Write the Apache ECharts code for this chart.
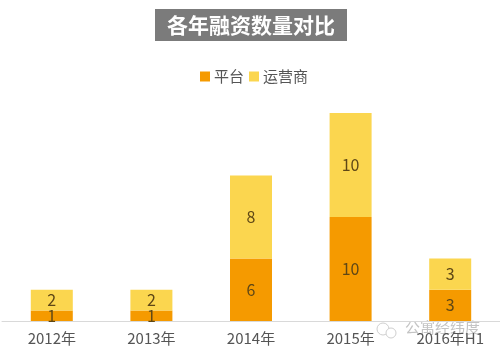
<!DOCTYPE html>
<html>
<head>
<meta charset="utf-8">
<script src="https://cdn.jsdelivr.net/npm/echarts@6/dist/echarts.min.js"></script>
<style>
  html, body { margin: 0; padding: 0; background: #fff; }
  #chart { width: 500px; height: 355px; }
</style>
</head>
<body>
<div id="chart"></div>
<script>
const categories = ["2012年", "2013年", "2014年", "2015年", "2016年H1"];
const platform = [1, 1, 6, 10, 3];
const operator = [2, 2, 8, 10, 3];

const font = '"Noto Sans CJK SC", "Noto Sans", sans-serif';
const chart = echarts.init(document.getElementById("chart"));

const barLabel = {
  show: true,
  position: "inside",
  color: "#5e4716",
  fontSize: 16,
  fontFamily: font,
};

chart.setOption({
  animation: false,
  backgroundColor: "#fff",
  title: {
    text: "各年融资数量对比",
    left: 155,
    top: 9,
    padding: [4, 12, 4, 12],
    backgroundColor: "#7b7b7b",
    textStyle: { color: "#fff", fontSize: 21, fontWeight: "bold", fontFamily: font, lineHeight: 24 },
  },
  legend: {
    data: ["平台", "运营商"],
    left: 200,
    top: 69,
    padding: 0,
    itemWidth: 10,
    itemHeight: 10,
    itemGap: 5,
    icon: "rect",
    textStyle: { color: "#555", fontSize: 15, fontFamily: font, padding: [0, 0, 0, -1] },
  },
  grid: { left: 2, top: 113, width: 499, bottom: 34 },
  xAxis: {
    type: "category",
    data: categories,
    axisTick: { show: false },
    axisLine: { lineStyle: { color: "#d9d9d9" } },
    axisLabel: { color: "#555", fontSize: 15, fontFamily: font, margin: 10, interval: 0 },
  },
  yAxis: { type: "value", min: 0, max: 20, show: false },
  series: [
    {
      name: "平台",
      type: "bar",
      stack: "total",
      barWidth: 42,
      data: platform,
      itemStyle: { color: "#f59a00" },
      label: barLabel,
    },
    {
      name: "运营商",
      type: "bar",
      stack: "total",
      barWidth: 42,
      data: operator,
      itemStyle: { color: "#fbd64f" },
      label: barLabel,
    },
  ],
  // watermark in the bottom right corner
  graphic: [
    { type: "circle", shape: { cx: 383, cy: 329, r: 6 }, style: { fill: "none", stroke: "#cfcfcf", lineWidth: 1 } },
    { type: "circle", shape: { cx: 391, cy: 333, r: 5 }, style: { fill: "#fff", stroke: "#cfcfcf", lineWidth: 1 } },
    {
      type: "text",
      left: 405,
      top: 320,
      style: { text: "公寓经纬度", fill: "#c4c4c4", fontSize: 15, fontFamily: font },
    },
  ],
});

window.addEventListener("resize", () => chart.resize());
</script>
</body>
</html>
